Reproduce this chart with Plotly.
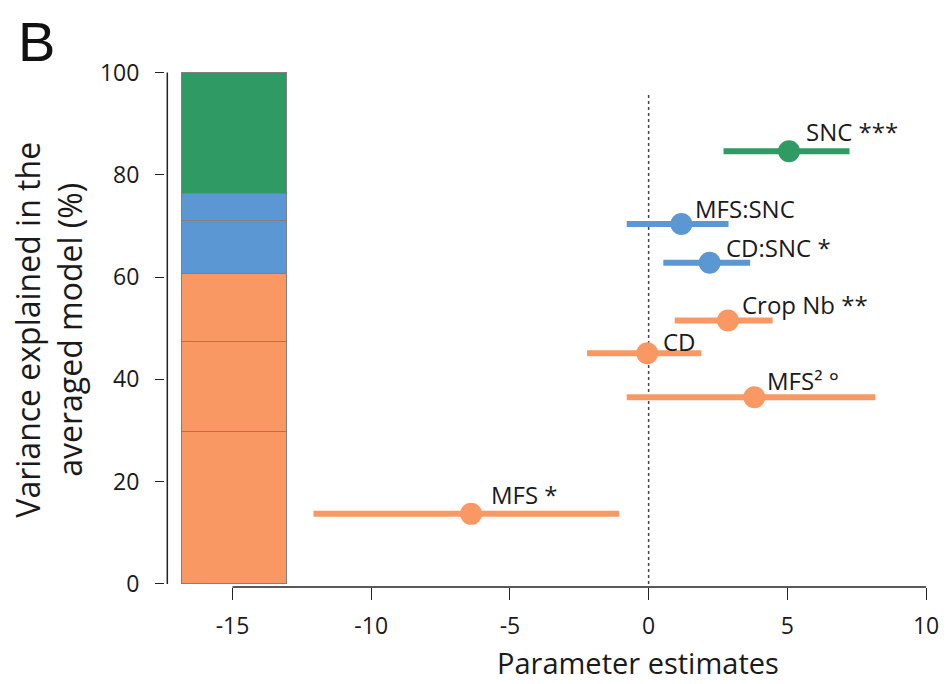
import plotly.graph_objects as go

# ---- data ----
terms = ["SNC ***", "MFS:SNC", "CD:SNC *", "Crop Nb **", "CD", "MFS² °", "MFS *"]
estimates = [5.06, 1.18, 2.20, 2.86, -0.05, 3.81, -6.40]
ci_low = [2.70, -0.79, 0.53, 0.94, -2.22, -0.79, -12.08]
ci_high = [7.24, 2.88, 3.66, 4.47, 1.90, 8.17, -1.06]
y_pos = [84.6, 70.4, 62.8, 51.5, 45.1, 36.5, 13.7]
groups = ["green", "blue", "blue", "orange", "orange", "orange", "orange"]

# stacked variance bar (bottom to top)
var_parts = [29.8, 17.6, 13.3, 10.3, 5.3, 23.7]
var_groups = ["orange", "orange", "orange", "blue", "blue", "green"]
bar_center = -14.92
bar_width = 3.8

x_ticks = [-15, -10, -5, 0, 5, 10]
x_ticktext = ["-15", "-10", "-5", "0", "5", "10"]
y_ticks = [0, 20, 40, 60, 80, 100]

COLORS = {"green": "#2F9A63", "blue": "#5B97D3", "orange": "#F99863"}
FONT = "Open Sans, Lato, sans-serif"
TXT = "#1a1a1a"

W, H = 949, 684
L, R, T, B = 165, 10, 70.4, 96.9
pw, ph = W - L - R, H - T - B


def px2paper(xp, yp):
    return (xp - L) / pw, 1 - (yp - T) / ph


fig = go.Figure()

for v, g in zip(var_parts, var_groups):
    fig.add_trace(go.Bar(
        x=[bar_center], y=[v], width=[bar_width],
        marker=dict(color=COLORS[g], line=dict(color="#808080", width=1.5)),
        showlegend=False, hoverinfo="skip"))

for t, e, lo, hi, yv, g in zip(terms, estimates, ci_low, ci_high, y_pos, groups):
    c = COLORS[g]
    fig.add_trace(go.Scatter(
        x=[e], y=[yv], mode="markers", name=t,
        marker=dict(size=22, color=c),
        error_x=dict(type="data", symmetric=False, array=[hi - e], arrayminus=[e - lo],
                     color=c, thickness=6, width=0),
        showlegend=False))

annotations = []
shifts = [(15, 20), (12, 15), (14, 15), (12, 16), (14, 12), (11, 17), (18, 19)]
for t, e, yv, (dx, dy) in zip(terms, estimates, y_pos, shifts):
    annotations.append(dict(x=e, y=yv, xref="x", yref="y", text=t, showarrow=False,
                            xanchor="left", yanchor="middle", xshift=dx, yshift=dy,
                            font=dict(family=FONT, size=24, color=TXT)))

bx, by = px2paper(35, 42)
annotations.append(dict(x=bx, y=by, xref="paper", yref="paper", text="B", showarrow=False,
                        xanchor="center", yanchor="middle",
                        font=dict(family="Liberation Sans, Arial, sans-serif", size=56, color="#111")))

tx, ty = px2paper(48, 330)
annotations.append(dict(x=tx, y=ty, xref="paper", yref="paper", showarrow=False,
                        text="Variance explained in the<br>averaged model (%)", textangle=-90,
                        xanchor="center", yanchor="middle",
                        font=dict(family=FONT, size=32, color=TXT)))

xtx, xty = px2paper(642, 663)
annotations.append(dict(x=xtx, y=xty, xref="paper", yref="paper", showarrow=False,
                        text="Parameter estimates", xanchor="center", yanchor="middle",
                        font=dict(family=FONT, size=29, color=TXT)))

# axis lines and zero dashed line
shapes = [
    dict(type="line", xref="x", yref="paper", x0=-15, x1=10, y0=0, y1=0,
         line=dict(color="#222", width=1.5)),
    dict(type="line", xref="paper", yref="y", x0=0.003, x1=0.003, y0=0, y1=100,
         line=dict(color="#222", width=1.5)),
    dict(type="line", xref="x", yref="y", x0=0, x1=0, y0=0, y1=96.1, layer="below",
         line=dict(color="#444", width=1.5, dash="3px,3px")),
]

fig.update_layout(
    width=W, height=H, barmode="stack", bargap=0,
    margin=dict(l=L, r=R, t=T, b=B),
    plot_bgcolor="white", paper_bgcolor="white",
    annotations=annotations, shapes=shapes,
    xaxis=dict(range=[-17.432, 10.25], tickvals=x_ticks, ticktext=x_ticktext,
               ticks="outside", ticklen=12, ticklabelstandoff=6,
               tickwidth=1.3, tickcolor="#222", showgrid=False, zeroline=False, showline=False,
               tickfont=dict(family=FONT, size=23, color=TXT)),
    yaxis=dict(range=[-0.6, 100.5], tickvals=y_ticks, ticks="outside", ticklen=9,
               ticklabelstandoff=11,
               tickwidth=1.3, tickcolor="#222", showgrid=False, zeroline=False, showline=False,
               tickfont=dict(family=FONT, size=23, color=TXT)),
)

fig.write_html("out.html", config={"displayModeBar": False},
               post_script="document.body.style.margin='0';")
